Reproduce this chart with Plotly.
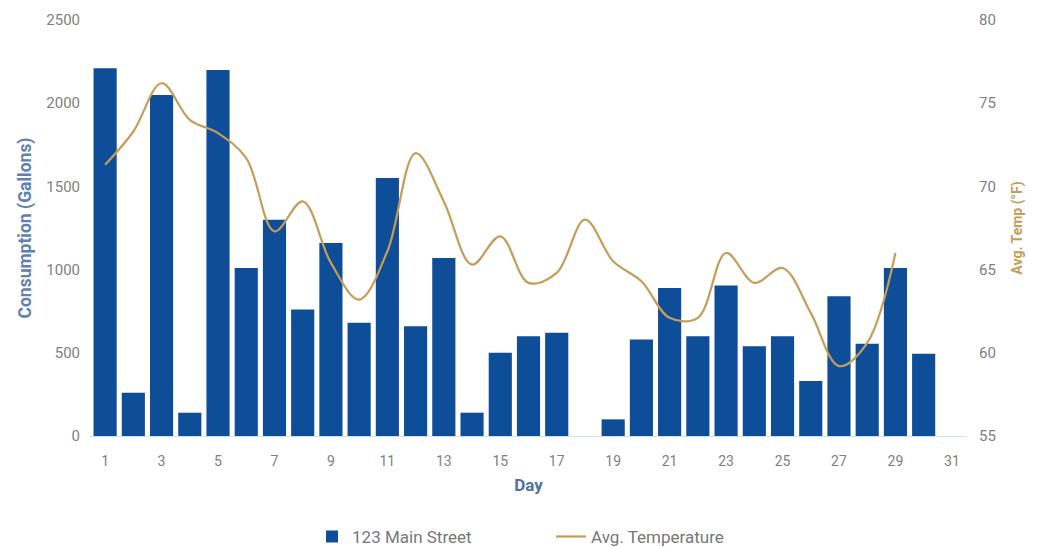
import plotly.graph_objects as go

days = list(range(1, 31))
consumption = [2210, 260, 2050, 140, 2200, 1010, 1300, 760, 1160, 680,
               1550, 660, 1070, 140, 500, 600, 620, 0, 100, 580,
               890, 600, 905, 540, 600, 330, 840, 555, 1010, 495]
temp_days = list(range(1, 30))
avg_temp = [71.3, 73.3, 76.2, 74.0, 73.2, 71.7, 67.3, 69.1, 65.4, 63.2,
            66.1, 72.0, 69.1, 65.3, 67.0, 64.2, 64.8, 68.0, 65.5, 64.3,
            62.1, 62.1, 66.0, 64.2, 65.1, 62.4, 59.2, 60.6, 66.0]
x_ticks = list(range(1, 32, 2))
left_ticks = [0, 500, 1000, 1500, 2000, 2500]
right_ticks = [55, 60, 65, 70, 75, 80]

BLUE = "#0e4d98"
GOLD = "#c59d58"
TICK = "#808080"

fig = go.Figure()
fig.add_trace(go.Bar(x=days, y=consumption, name="123 Main Street",
                     marker=dict(color=BLUE, line=dict(width=0))))
fig.add_trace(go.Scatter(x=temp_days, y=avg_temp, name="Avg. Temperature",
                         mode="lines", line=dict(color=GOLD, width=2.2, shape="spline", smoothing=1.0),
                         yaxis="y2"))

fig.update_layout(
    width=1038, height=547,
    margin=dict(l=83, r=80, t=12, b=119, autoexpand=False),
    paper_bgcolor="white", plot_bgcolor="white",
    bargap=0.18,
    font=dict(family="Roboto, Arial, sans-serif", size=14, color=TICK),
    xaxis=dict(range=[0.5, 31.5], tickvals=x_ticks, ticktext=[str(v) for v in x_ticks],
               showgrid=False, zeroline=False, showline=True, linecolor="#cddff0", linewidth=1,
               ticks="", ticklabelstandoff=12, tickfont=dict(size=14, color=TICK),
               title=dict(text="<b>Day</b>", font=dict(size=17, color="#5070a6"), standoff=11)),
    yaxis=dict(range=[0, 2500], tickvals=left_ticks, showgrid=False, zeroline=False,
               showline=False, ticks="", ticklabelstandoff=10, tickfont=dict(size=15, color=TICK),
               title=dict(text="<b>Consumption (Gallons)</b>", font=dict(size=17.5, color="#5e80b3"), standoff=10)),
    yaxis2=dict(range=[55, 80], tickvals=right_ticks, overlaying="y", side="right",
                showgrid=False, zeroline=False, showline=False, ticks="", ticklabelstandoff=12,
                tickfont=dict(size=15, color=TICK),
                title=dict(text="<b>Avg. Temp (°F)</b>", font=dict(size=14, color=GOLD), standoff=17)),
    legend=dict(orientation="h", xref="container", x=0.2929, xanchor="left",
                yref="container", y=0.033, yanchor="middle",
                font=dict(size=17, color="#777777"), tracegroupgap=0,
                entrywidthmode="pixels", entrywidth=194),
    showlegend=True,
)

fig.write_html("out.html")
